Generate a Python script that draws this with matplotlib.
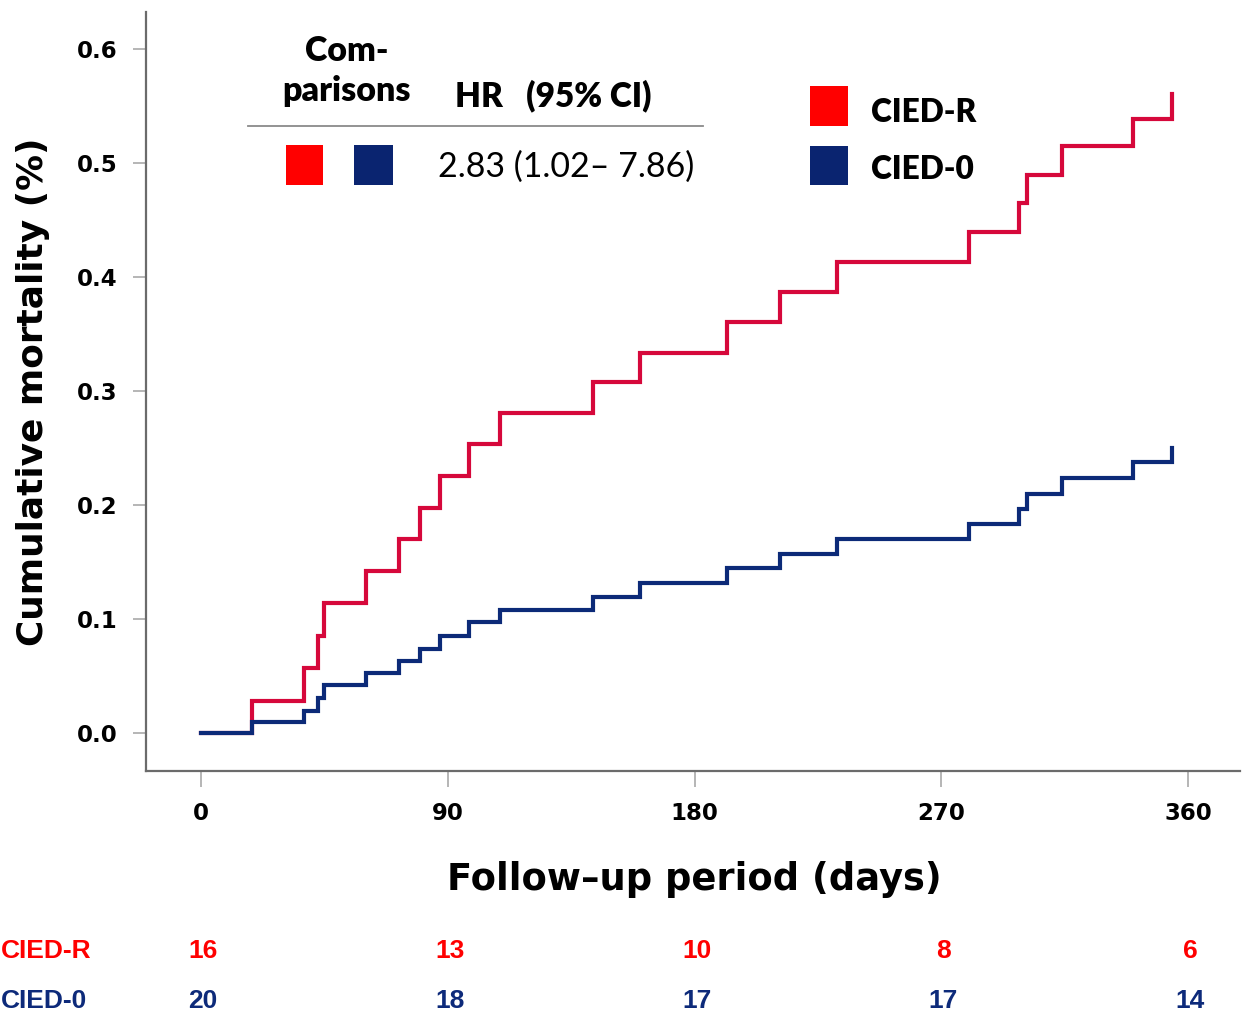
import matplotlib
matplotlib.use("Agg")
import matplotlib.pyplot as plt
from matplotlib.patches import Rectangle
from matplotlib.lines import Line2D
from matplotlib import font_manager

# ---------------- data ----------------
event_days = [0, 18.5, 37.6, 42.8, 45, 60, 72.3, 80, 87, 97.8, 109, 143, 160,
              192, 211.3, 232, 280, 298.3, 301.3, 314, 340, 354.3]
cied_r_mortality = [0, 0.028, 0.057, 0.085, 0.114, 0.142, 0.170, 0.198, 0.226,
                    0.254, 0.281, 0.308, 0.334, 0.361, 0.387, 0.413, 0.440,
                    0.465, 0.490, 0.515, 0.539, 0.561]
cied_0_mortality = [0, 0.010, 0.020, 0.031, 0.042, 0.053, 0.063, 0.074, 0.085,
                    0.098, 0.108, 0.120, 0.132, 0.145, 0.157, 0.170, 0.184,
                    0.197, 0.210, 0.224, 0.238, 0.250]

x_ticks = [0, 90, 180, 270, 360]
y_ticks = [0.0, 0.1, 0.2, 0.3, 0.4, 0.5, 0.6]
y_tick_labels = ["0.0", "0.1", "0.2", "0.3", "0.4", "0.5", "0.6"]

risk_groups = ["CIED-R", "CIED-0"]
risk_cied_r = [16, 13, 10, 8, 6]
risk_cied_0 = [20, 18, 17, 17, 14]

hr_text = "2.83 (1.02\u2013 7.86)"

# ---------------- style ----------------
RED_LINE = "#D6083B"
BLUE_LINE = "#0C2A78"
RED_SQ = "#FF0000"
BLUE_SQ = "#0A2470"
RED_TXT = "#FF0000"
BLUE_TXT = "#0D2A7A"

available = {f.name for f in font_manager.fontManager.ttflist}
if "Liberation Sans Narrow" in available:
    risk_font = ["Liberation Sans Narrow", "DejaVu Sans"]
    risk_size = 22
else:
    risk_font = ["Liberation Sans", "DejaVu Sans"]
    risk_size = 19

W, H = 1248, 1015
fig = plt.figure(figsize=(W / 100, H / 100), dpi=100)


def fx(px):
    return px / W


def fy(py):
    return 1 - py / H


ax = fig.add_axes([fx(146), fy(770.7), fx(1240) - fx(146), fy(12) - fy(770.7)])
ax.set_xlim(-20.06, 378.96)
ax.set_ylim(-0.0328, 0.6327)

ax.step(event_days, cied_r_mortality, where="post", color=RED_LINE, lw=3.0,
        solid_joinstyle="miter", zorder=3)
ax.step(event_days, cied_0_mortality, where="post", color=BLUE_LINE, lw=3.0,
        solid_joinstyle="miter", zorder=3)

for s in ["top", "right"]:
    ax.spines[s].set_visible(False)
for s in ["left", "bottom"]:
    ax.spines[s].set_color("#6b6b6b")
    ax.spines[s].set_linewidth(1.6)

ax.set_xticks(x_ticks)
ax.set_xticklabels([str(t) for t in x_ticks])
ax.set_yticks(y_ticks)
ax.set_yticklabels(y_tick_labels)
ax.tick_params(axis="y", direction="out", length=9.5, width=1.4, color="#b5b5b5",
               pad=11, labelsize=16.5)
ax.tick_params(axis="x", direction="out", length=11.5, width=1.4, color="#b5b5b5",
               pad=11, labelsize=16.5)
for lab in ax.get_xticklabels() + ax.get_yticklabels():
    lab.set_fontweight("bold")
    lab.set_fontfamily("DejaVu Sans")

# axis titles
fig.text(fx(33), fy(392), "Cumulative mortality (%)", rotation=90, ha="center",
         va="center", fontsize=25.8, fontweight="bold", family="DejaVu Sans")
fig.text(fx(694.5), fy(890), "Follow\u2013up period (days)", ha="center",
         va="baseline", fontsize=26.6, fontweight="bold", family="DejaVu Sans")

# ---------------- HR annotation box ----------------
ann_font = ["Lato", "DejaVu Sans"]
fig.text(fx(346.5), fy(61), "Com-", ha="center", va="baseline", fontsize=24.5,
         fontweight="heavy", family=ann_font)
fig.text(fx(346.5), fy(101), "parisons", ha="center", va="baseline", fontsize=24.5,
         fontweight="heavy", family=ann_font)
fig.text(fx(455), fy(106), "HR   (95% CI)", ha="left", va="baseline", fontsize=24,
         fontweight="heavy", family=ann_font)
fig.add_artist(Line2D([fx(248), fx(703)], [fy(126), fy(126)], transform=fig.transFigure,
                      color="#8a8a8a", lw=1.3))
fig.add_artist(Rectangle((fx(286), fy(185)), fx(323) - fx(286), fy(145) - fy(185),
                         transform=fig.transFigure, facecolor=RED_SQ, edgecolor="none"))
fig.add_artist(Rectangle((fx(354), fy(185)), fx(392.5) - fx(354), fy(145) - fy(185),
                         transform=fig.transFigure, facecolor=BLUE_SQ, edgecolor="none"))
fig.text(fx(438), fy(177), hr_text, ha="left", va="baseline", fontsize=24.5,
         family=ann_font)

# ---------------- legend ----------------
fig.add_artist(Rectangle((fx(810), fy(126)), fx(848) - fx(810), fy(86.5) - fy(126),
                         transform=fig.transFigure, facecolor=RED_SQ, edgecolor="none"))
fig.add_artist(Rectangle((fx(810), fy(184.5)), fx(848) - fx(810), fy(145.5) - fy(184.5),
                         transform=fig.transFigure, facecolor=BLUE_SQ, edgecolor="none"))
fig.text(fx(871), fy(121.5), risk_groups[0], ha="left", va="baseline", fontsize=22.8,
         fontweight="heavy", family=ann_font)
fig.text(fx(871), fy(179), risk_groups[1], ha="left", va="baseline", fontsize=22.8,
         fontweight="heavy", family=ann_font)

# ---------------- numbers at risk ----------------
row_y = [fy(951), fy(1001)]
fig.text(0.001, row_y[0], risk_groups[0], ha="left", va="center", fontsize=risk_size,
         fontweight="bold", color=RED_TXT, family=risk_font)
fig.text(0.001, row_y[1], risk_groups[1], ha="left", va="center", fontsize=risk_size,
         fontweight="bold", color=BLUE_TXT, family=risk_font)
to_fig = lambda d: fig.transFigure.inverted().transform(ax.transData.transform((d, 0)))[0]
for d, nr, nb in zip(x_ticks, risk_cied_r, risk_cied_0):
    xf = to_fig(d) + fx(2)
    fig.text(xf, row_y[0], str(nr), ha="center", va="center", fontsize=risk_size,
             fontweight="bold", color=RED_TXT, family=risk_font)
    fig.text(xf, row_y[1], str(nb), ha="center", va="center", fontsize=risk_size,
             fontweight="bold", color=BLUE_TXT, family=risk_font)

fig.savefig("out.png", dpi=100, facecolor="white")
